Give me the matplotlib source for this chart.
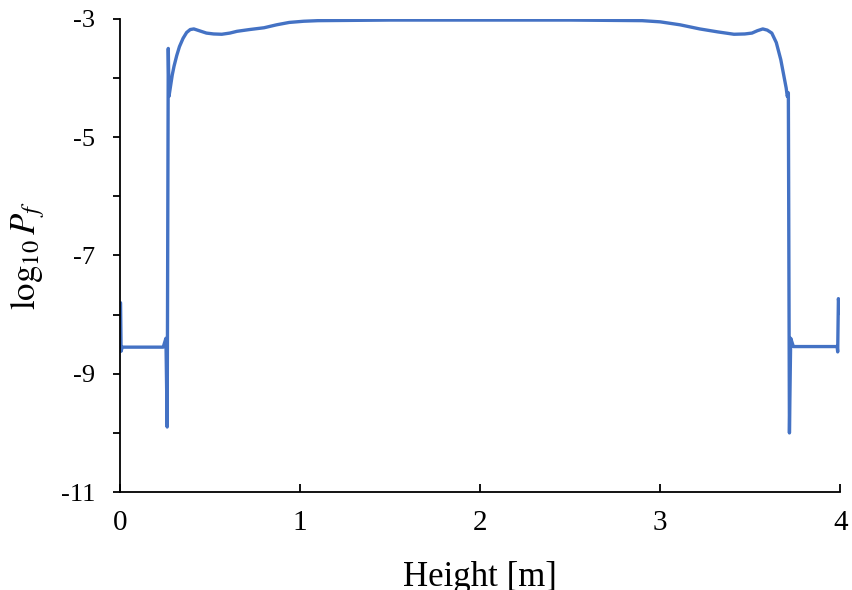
import matplotlib
matplotlib.use('Agg')
import matplotlib.pyplot as plt
from matplotlib.ticker import MultipleLocator, FuncFormatter

plt.rcParams['font.family'] = ['Liberation Serif', 'DejaVu Serif']
plt.rcParams['mathtext.fontset'] = 'stix'

# height [m] and log10 Pf
height = [0.003, 0.006, 0.012, 0.24, 0.255, 0.262, 0.268, 0.272, 0.28, 0.29,
          0.30, 0.315, 0.33, 0.35, 0.37, 0.39, 0.41, 0.44, 0.48, 0.52,
          0.565, 0.61, 0.65, 0.72, 0.80, 0.87, 0.94, 1.02, 1.10, 1.50,
          2.00, 2.50, 2.90, 3.00, 3.11, 3.22, 3.32, 3.41, 3.47, 3.51,
          3.54, 3.57, 3.595, 3.62, 3.645, 3.67, 3.685, 3.70, 3.706, 3.712,
          3.718, 3.725, 3.74, 3.983, 3.986, 3.99, 4.0]
log_pf = [-7.80, -8.62, -8.55, -8.55, -8.40, -9.90, -3.50, -4.31, -4.15, -3.95,
          -3.80, -3.62, -3.47, -3.33, -3.23, -3.18, -3.17, -3.20, -3.24, -3.255,
          -3.26, -3.24, -3.21, -3.18, -3.15, -3.10, -3.06, -3.04, -3.03, -3.02,
          -3.02, -3.02, -3.03, -3.05, -3.10, -3.17, -3.22, -3.26, -3.255, -3.24,
          -3.20, -3.17, -3.19, -3.24, -3.40, -3.69, -3.93, -4.17, -4.31, -4.25,
          -10.00, -8.40, -8.54, -8.54, -8.63, -7.73, -7.98]

fig = plt.figure(figsize=(8.53, 5.90), dpi=100)
ax = fig.add_axes([0.1407, 0.166, 0.8443, 0.802])

ax.plot(height, log_pf, color='#4472C4', lw=2.4, solid_joinstyle='round',
        solid_capstyle='round')

ax.set_xlim(0, 4)
ax.set_ylim(-11, -3)
ax.xaxis.set_major_locator(MultipleLocator(1))
ax.yaxis.set_major_locator(MultipleLocator(1))
ax.yaxis.set_major_formatter(FuncFormatter(
    lambda v, p: '%d' % v if int(round(v)) % 2 != 0 else ''))

for s in ['top', 'right']:
    ax.spines[s].set_visible(False)
for s in ['left', 'bottom']:
    ax.spines[s].set_linewidth(1.3)

ax.tick_params(axis='y', direction='out', length=5, width=1.3, pad=13, labelsize=19)
ax.tick_params(axis='x', direction='in', length=6, width=1.3, pad=13, labelsize=21)

ax.set_xlabel('Height [m]', fontsize=25, labelpad=18)
ax.set_ylabel(r'$\mathrm{log}_{10}\,P_f$', fontsize=25, labelpad=10)

fig.savefig('out.png', dpi=100)
